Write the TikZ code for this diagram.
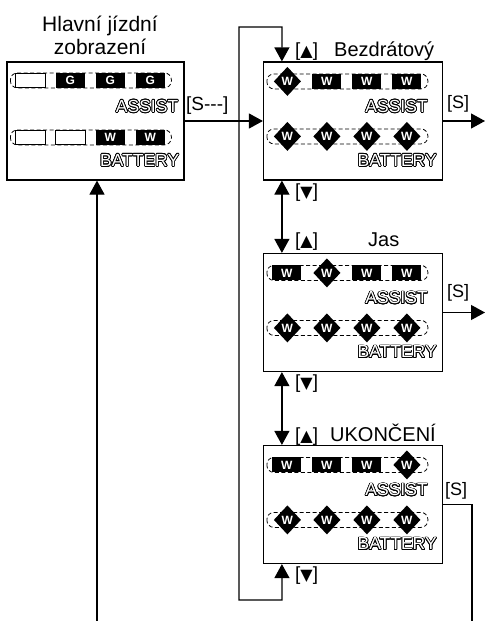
\documentclass[tikz,border=0pt]{standalone}
\usepackage{fontspec}
\setmainfont{Liberation Sans}
\newfontfamily\symf{DejaVu Sans}
\usepackage[copies]{contour}
\usetikzlibrary{arrows.meta}
\contourlength{0.75pt}
\newcommand\lcdtext[1]{\contour{black}{\textcolor{white}{#1}}}
\newcommand\upsym{{\symf\fontsize{16}{16}\selectfont ▲}}
\newcommand\dnsym{{\symf\fontsize{16}{16}\selectfont ▼}}
\tikzset{
  box/.style={draw,line width=1.2pt,minimum width=179pt,minimum height=118pt,inner sep=0pt,fill=white},
  conn/.style={line width=1.2pt},
  tip/.style={-{Triangle[length=14pt,width=15pt]}},
  tips/.style={{Triangle[length=14pt,width=15pt]}-{Triangle[length=14pt,width=15pt]}},
  lbl/.style={font=\fontsize{19}{19}\selectfont,inner sep=0pt},
  slbl/.style={font=\fontsize{18}{18}\selectfont,inner sep=0pt},
  ttl/.style={font=\fontsize{20}{20}\selectfont,inner sep=0pt},
  lcdtxt/.style={font=\fontsize{17.5}{17.5}\selectfont,inner sep=0pt},
  capsule/.style={draw,line width=0.8pt,dash pattern=on 4pt off 2.5pt,rounded corners=7pt},
  seglet/.style={text=white,font=\bfseries\fontsize{12}{12}\selectfont,inner sep=0pt},
  pics/segE/.style={code={\draw[line width=0.9pt,fill=white] (-15,-7) rectangle (15,7);}},
  pics/segB/.style={code={\fill[black] (-14.5,-7.5) rectangle (14.5,7.5);
      \node[seglet] (-t) at (0,0) {#1};}},
  pics/segD/.style={code={\fill[black] (-13.5,0) -- (0,-14.5) -- (13.5,0) -- (0,14.5) -- cycle;
      \node[seglet] (-t) at (0,0) {#1};}},
}
\begin{document}
\begin{tikzpicture}[x=1pt,y=-1pt]
\useasboundingbox (0,0) rectangle (485,621);

% title of main display
\node[font=\fontsize{21}{22.5}\selectfont,align=center,anchor=north,inner sep=0pt] (mainT) at (100,16) {Hlavní jízdní\\zobrazení};

% boxes
\node[box,minimum width=177pt] (main) at (95.5,121) {};
\node[box] (bez) at (353,121) {};
\node[box] (jas) at (353,312.5) {};
\node[box] (uk) at (353,504.5) {};

% coordinates for free ends
\coordinate (lt) at (239,27);
\coordinate (lb) at (282,600);
\coordinate (bezS) at (485,121);
\coordinate (jasS) at (485,312.5);
\coordinate (ukS) at (472,621);
\coordinate (mb) at (97,621);

% connectors
\draw[conn,tip] (main.east) -- (bez.west);
\draw[conn,tips] ([xshift=19pt]bez.north west) |- (lt) |- (lb) -- ([xshift=19pt]uk.south west);
\draw[conn,tips] ([xshift=19pt]bez.south west) -- ([xshift=19pt]jas.north west);
\draw[conn,tips] ([xshift=19pt]jas.south west) -- ([xshift=19pt]uk.north west);
\draw[conn,tip] (bez.east) -- (bezS);
\draw[conn,tip] (jas.east) -- (jasS);
\draw[conn] (uk.east) -| (ukS);
\draw[conn,tip] (mb) -- (mb |- main.south);

% labels
\node[lbl,anchor=base west] (sdash) at (186,110) {[S-{}-{}-]};
\node[lbl,anchor=base west] (bezU) at (295,56) {[\upsym]};
\node[ttl,anchor=base west] (bezT) at (334,56) {Bezdrátový};
\node[lbl,anchor=base west] (bezD) at (295,197) {[\dnsym]};
\node[slbl,anchor=base west] (bezSl) at (447,108) {[S]};
\node[lbl,anchor=base west] (jasU) at (295,246) {[\upsym]};
\node[ttl,anchor=base west] (jasT) at (368,246) {Jas};
\node[lbl,anchor=base west] (jasD) at (295,388) {[\dnsym]};
\node[slbl,anchor=base west] (jasSl) at (447,297) {[S]};
\node[lbl,anchor=base west] (ukU) at (295,441.5) {[\upsym]};
\node[ttl,anchor=base west] (ukT) at (330,441.5) {UKONČENÍ};
\node[lbl,anchor=base west] (ukD) at (295,580) {[\dnsym]};
\node[slbl,anchor=base west] (ukSl) at (445,495) {[S]};

% main panel
\begin{scope}[shift={(main.north west)}]
  \draw[capsule] (4,11.5) rectangle (165,26.5);
  \draw[capsule] (4,68.5) rectangle (165,83.5);
  \pic (m11) at (24,19) {segE};
  \pic (m12) at (64,19) {segB=G};
  \pic (m13) at (104,19) {segB=G};
  \pic (m14) at (144,19) {segB=G};
  \pic (m21) at (24,76) {segE};
  \pic (m22) at (64,76) {segE};
  \pic (m23) at (104,76) {segB=W};
  \pic (m24) at (144,76) {segB=W};
  \node[lcdtxt,anchor=base east] (mA) at (172,51) {\lcdtext{ASSIST}};
  \node[lcdtxt,anchor=base east] (mB) at (173,105) {\lcdtext{BATTERY}};
\end{scope}

% Bezdratovy panel
\begin{scope}[shift={(bez.north west)}]
  \draw[capsule] (4,12.5) rectangle (165,27.5);
  \draw[capsule] (4,67.5) rectangle (165,82.5);
  \pic (b11) at (24.5,20) {segD=W};
  \pic (b12) at (64,20) {segB=W};
  \pic (b13) at (104,20) {segB=W};
  \pic (b14) at (144,20) {segB=W};
  \pic (b21) at (24.5,75) {segD=W};
  \pic (b22) at (64,75) {segD=W};
  \pic (b23) at (104,75) {segD=W};
  \pic (b24) at (144,75) {segD=W};
  \node[lcdtxt,anchor=base east] (bA) at (165,51) {\lcdtext{ASSIST}};
  \node[lcdtxt,anchor=base east] (bB) at (174,105) {\lcdtext{BATTERY}};
\end{scope}

% Jas panel
\begin{scope}[shift={(jas.north west)}]
  \draw[capsule] (4,12.5) rectangle (165,27.5);
  \draw[capsule] (4,67.5) rectangle (165,82.5);
  \pic (j11) at (24,20) {segB=W};
  \pic (j12) at (64,20) {segD=W};
  \pic (j13) at (104,20) {segB=W};
  \pic (j14) at (144,20) {segB=W};
  \pic (j21) at (24.5,75) {segD=W};
  \pic (j22) at (64,75) {segD=W};
  \pic (j23) at (104,75) {segD=W};
  \pic (j24) at (144,75) {segD=W};
  \node[lcdtxt,anchor=base east] (jA) at (165,51) {\lcdtext{ASSIST}};
  \node[lcdtxt,anchor=base east] (jB) at (174,105) {\lcdtext{BATTERY}};
\end{scope}

% UKONCENI panel
\begin{scope}[shift={(uk.north west)}]
  \draw[capsule] (4,12.5) rectangle (165,27.5);
  \draw[capsule] (4,67.5) rectangle (165,82.5);
  \pic (u11) at (24,20) {segB=W};
  \pic (u12) at (64,20) {segB=W};
  \pic (u13) at (104,20) {segB=W};
  \pic (u14) at (144,20) {segD=W};
  \pic (u21) at (24.5,75) {segD=W};
  \pic (u22) at (64,75) {segD=W};
  \pic (u23) at (104,75) {segD=W};
  \pic (u24) at (144,75) {segD=W};
  \node[lcdtxt,anchor=base east] (uA) at (165,51) {\lcdtext{ASSIST}};
  \node[lcdtxt,anchor=base east] (uB) at (174,105) {\lcdtext{BATTERY}};
\end{scope}
\end{tikzpicture}
\end{document}
